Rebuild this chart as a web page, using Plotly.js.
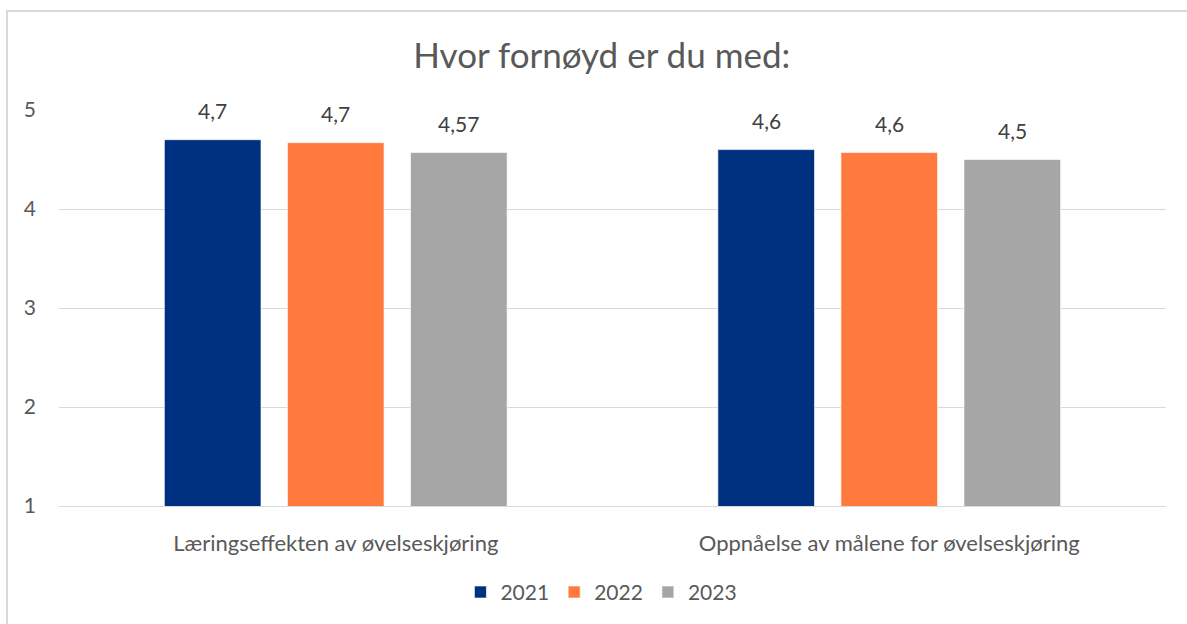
<!DOCTYPE html>
<html>
<head>
<meta charset="utf-8">
<script src="https://cdn.plot.ly/plotly-3.0.1.min.js"></script>
<style>
  html, body { margin: 0; padding: 0; background: #ffffff; }
  #frame { position: absolute; left: 6px; top: 10px; width: 1200px; height: 700px;
           border-left: 2px solid #d9d9d9; border-top: 2px solid #d9d9d9; box-sizing: border-box; }
  #chart { position: absolute; left: 0; top: 0; width: 1187px; height: 624px; }
</style>
</head>
<body>
<div id="frame"></div>
<div id="chart"></div>
<script>
const categories = ["Læringseffekten av øvelseskjøring", "Oppnåelse av målene for øvelseskjøring"];
const seriesNames = ["2021", "2022", "2023"];
const values2021 = [4.70, 4.60];
const values2022 = [4.67, 4.57];
const values2023 = [4.57, 4.50];
const labels2021 = ["4,7", "4,6"];
const labels2022 = ["4,7", "4,6"];
const labels2023 = ["4,57", "4,5"];
const colors = ["#003180", "#ff7a3c", "#a6a6a6"];

const allValues = [values2021, values2022, values2023];
const allLabels = [labels2021, labels2022, labels2023];

const textColor = "#595959";
const fontFam = "Lato, 'Open Sans', sans-serif";

const traces = seriesNames.map((name, i) => ({
  type: "bar",
  name: name,
  x: categories,
  y: allValues[i],
  marker: { color: colors[i], line: { color: "rgba(255,255,255,0.6)", width: 1 } },
  hoverinfo: "skip"
}));

// data labels placed above each bar via annotations
const barSlot = 123; // px between adjacent bars in a group
const annotations = [];
allValues.forEach((vals, i) => {
  vals.forEach((v, j) => {
    annotations.push({
      x: categories[j], y: v, xref: "x", yref: "y",
      text: allLabels[i][j], showarrow: false,
      xshift: (i - 1) * barSlot, yshift: 15, yanchor: "bottom",
      font: { family: fontFam, size: 21, color: "#404040" }
    });
  });
});

const layout = {
  width: 1187, height: 624,
  paper_bgcolor: "rgba(0,0,0,0)",
  plot_bgcolor: "rgba(0,0,0,0)",
  margin: { l: 58.75, r: 21.25, t: 109.7, b: 117.3, pad: 0 },
  title: {
    text: "Hvor fornøyd er du med:",
    x: 0.507, xanchor: "center", y: 0.91, yanchor: "middle",
    font: { family: fontFam, size: 35, color: textColor }
  },
  barmode: "group",
  bargap: 0.333,
  bargroupgap: 0.215,
  xaxis: {
    showgrid: false, zeroline: false,
    showline: true, linecolor: "#d9d9d9", linewidth: 1,
    ticks: "", ticklabelstandoff: 18,
    tickfont: { family: fontFam, size: 22, color: textColor }
  },
  yaxis: {
    range: [1, 5], dtick: 1, tick0: 1,
    showgrid: true, gridcolor: "#d9d9d9", gridwidth: 1,
    zeroline: false, showline: false, ticks: "",
    ticklabelstandoff: 22,
    tickfont: { family: fontFam, size: 21, color: textColor }
  },
  showlegend: true,
  legend: {
    orientation: "h", x: 0.49, xanchor: "center", y: -0.215, yanchor: "middle",
    font: { family: fontFam, size: 21, color: textColor },
    itemwidth: 30, tracegroupgap: 0
  },
  annotations: annotations
};

Plotly.newPlot("chart", traces, layout, { displayModeBar: false, staticPlot: true });
</script>
</body>
</html>
